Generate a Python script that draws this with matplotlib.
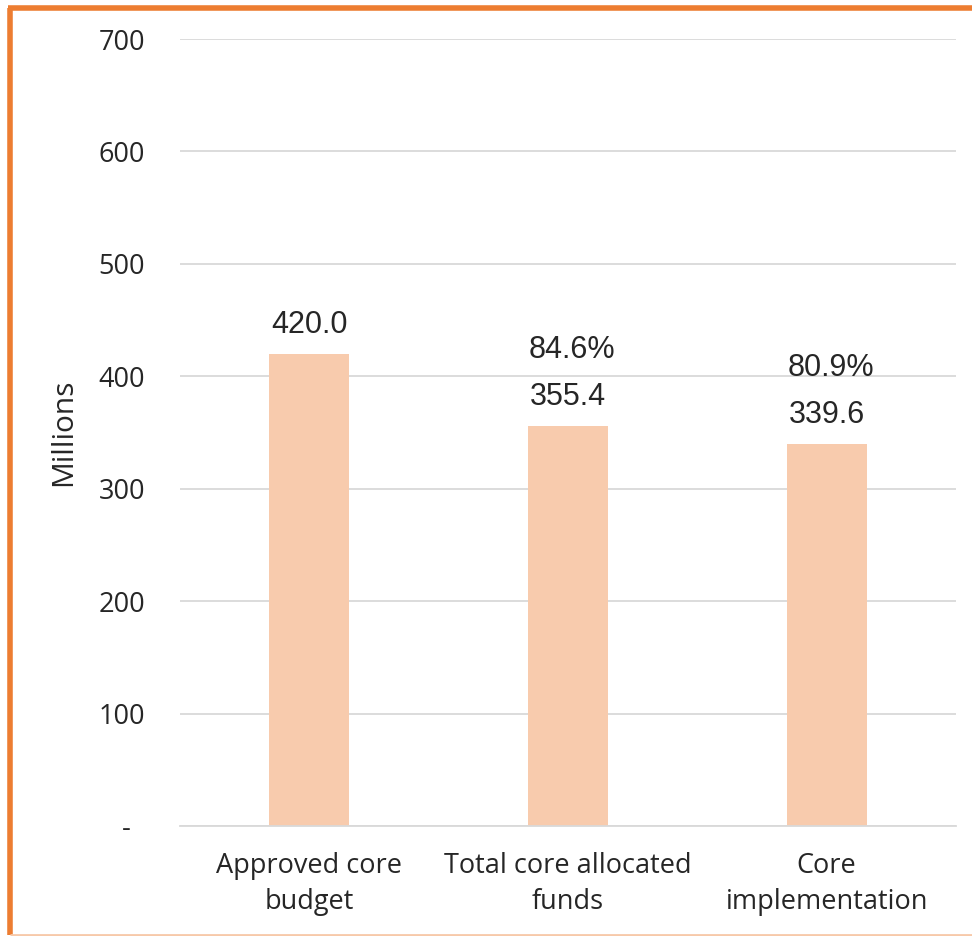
import matplotlib.pyplot as plt
from matplotlib.lines import Line2D

categories = ["Approved core\nbudget", "Total core allocated\nfunds", "Core\nimplementation"]
values = [420.0, 355.4, 339.6]
yticks = [0, 100, 200, 300, 400, 500, 600, 700]
ytick_labels = ["-  ", "100", "200", "300", "400", "500", "600", "700"]

BAR_COLOR = "#F8CBAD"
GRID_COLOR = "#D9D9D9"
TEXT_COLOR = "#262626"
BORDER_COLOR = "#ED7D31"


def main():
    fig = plt.figure(figsize=(9.72, 9.36), dpi=100)
    ax = fig.add_axes([180 / 972, 1 - 826 / 936, 776 / 972, 787 / 936])

    x = list(range(len(categories)))
    ax.bar(x, values, width=0.31, color=BAR_COLOR, zorder=2)

    ax.set_xlim(-0.5, len(categories) - 0.5)
    ax.set_ylim(0, 700)
    ax.set_yticks(yticks)
    ax.set_yticklabels(ytick_labels, fontsize=19.5, family="Open Sans", color=TEXT_COLOR)
    ax.set_xticks(x)
    ax.set_xticklabels(categories, fontsize=19.5, family="Open Sans", color=TEXT_COLOR,
                       linespacing=1.38)
    ax.tick_params(axis="both", length=0)
    ax.tick_params(axis="y", pad=25)
    ax.tick_params(axis="x", pad=19)

    ax.grid(axis="y", color=GRID_COLOR, linewidth=1.3, zorder=0)
    for side in ["top", "right", "left"]:
        ax.spines[side].set_visible(False)
    ax.spines["bottom"].set_color(GRID_COLOR)
    ax.spines["bottom"].set_linewidth(1.3)

    ax.set_ylabel("Millions", fontsize=21.5, family="Open Sans", color=TEXT_COLOR, labelpad=15)

    # value labels, plus share of the approved budget for the later bars
    for i, v in enumerate(values):
        ax.annotate(f"{v:.1f}", (i, v), xytext=(0, 29), textcoords="offset pixels",
                    ha="center", va="center", fontsize=22, family="Liberation Sans",
                    color=TEXT_COLOR)
        if i > 0:
            pct = v / values[0] * 100
            ax.annotate(f"{pct:.1f}%", (i, v), xytext=(4, 76), textcoords="offset pixels",
                        ha="center", va="center", fontsize=22, family="Liberation Sans",
                        color=TEXT_COLOR)

    # orange frame around the chart (right side runs off the edge)
    lw = 4
    left, top, bottom = 10 / 972, 1 - 7.5 / 936, 1.5 / 936
    fig.add_artist(Line2D([left, left], [bottom, top], color=BORDER_COLOR, lw=lw,
                          transform=fig.transFigure, solid_capstyle="butt"))
    fig.add_artist(Line2D([left - 2 / 972, 1], [top, top], color=BORDER_COLOR, lw=lw,
                          transform=fig.transFigure, solid_capstyle="butt"))
    fig.add_artist(Line2D([left, 1], [bottom, bottom], color="#F7C9A9", lw=2,
                          transform=fig.transFigure, solid_capstyle="butt"))

    fig.savefig("out.png", dpi=100)


if __name__ == "__main__":
    main()
